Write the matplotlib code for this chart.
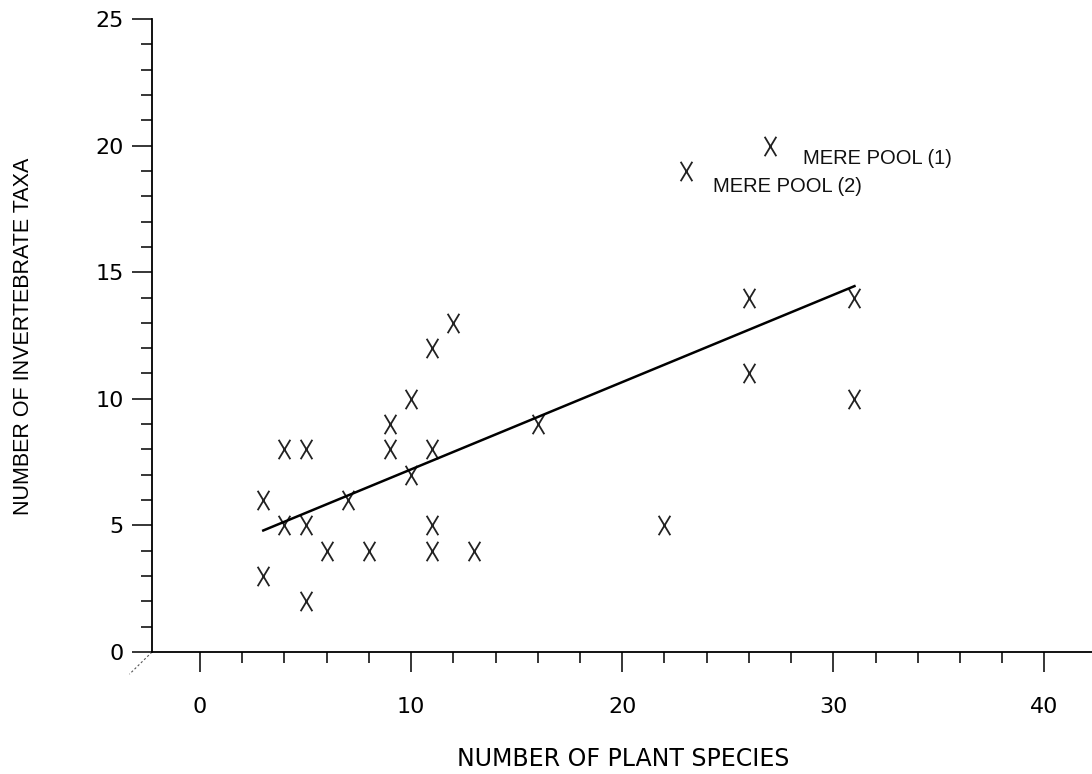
import matplotlib
matplotlib.use("Agg")
import matplotlib.pyplot as plt
from matplotlib.path import Path
from matplotlib.ticker import MultipleLocator, FixedLocator

# plant species vs invertebrate taxa per pond
plant_species = [3, 3, 4, 4, 5, 5, 5, 6, 7, 8, 9, 9, 10, 10, 11, 11, 11, 11,
                 12, 13, 16, 22, 23, 26, 26, 27, 31, 31]
invert_taxa = [6, 3, 8, 5, 8, 5, 2, 4, 6, 4, 9, 8, 10, 7, 12, 8, 5, 4,
               13, 4, 9, 5, 19, 14, 11, 20, 14, 10]

# fitted line
fit_x = [3, 31]
fit_y = [4.8, 14.45]

# labelled outliers
labels = ["MERE POOL (1)", "MERE POOL (2)"]
label_pts = [(27, 20), (23, 19)]
label_offsets = [(24, -9.5), (20, -11.5)]

x_major = [0, 10, 20, 30, 40]
x_minor = [2, 4, 6, 8, 12, 14, 16, 18, 22, 24, 26, 28, 32, 34, 36, 38]
y_major = [0, 5, 10, 15, 20, 25]

# tall narrow X marker
x_marker = Path([(-0.3, -0.5), (0.3, 0.5), (-0.3, 0.5), (0.3, -0.5)],
                [Path.MOVETO, Path.LINETO, Path.MOVETO, Path.LINETO])

fig = plt.figure(figsize=(10.92, 7.74), dpi=100)
ax = fig.add_axes([0.1392, 0.1576, 0.8608, 0.8179])

ax.plot(plant_species, invert_taxa, linestyle="none", marker=x_marker,
        markersize=14, markerfacecolor="none", markeredgecolor="#222222",
        markeredgewidth=1.3)
ax.plot(fit_x, fit_y, color="black", linewidth=1.8)

for text, pt, off in zip(labels, label_pts, label_offsets):
    ax.annotate(text, xy=pt, xytext=off, textcoords="offset points",
                ha="left", va="center", fontsize=14.5,
                family="Liberation Sans", color="#111111")

ax.set_xlim(-2.27, 42.25)
ax.set_ylim(0, 25)

ax.spines["top"].set_visible(False)
ax.spines["right"].set_visible(False)
ax.spines["left"].set_linewidth(1.3)
ax.spines["bottom"].set_linewidth(1.3)

ax.set_xticks(x_major)
ax.set_yticks(y_major)
ax.xaxis.set_minor_locator(FixedLocator(x_minor))
ax.yaxis.set_minor_locator(MultipleLocator(1))
ax.tick_params(which="major", length=14.4, width=1.1, direction="out")
ax.tick_params(which="minor", length=8, width=1.1, direction="out")
ax.tick_params(axis="x", which="major", pad=18, labelsize=16)
ax.tick_params(axis="y", which="major", pad=6, labelsize=16)

ax.set_xlabel("NUMBER OF PLANT SPECIES", fontsize=17)
ax.xaxis.set_label_coords(0.501, -0.15)
ax.set_ylabel("NUMBER OF INVERTEBRATE TAXA", fontsize=15.5,
              family="Liberation Sans")
ax.yaxis.set_label_coords(-0.126, 0.499)

# small dashed break mark at the origin corner
ax.plot([0, -0.024], [0, -0.035], transform=ax.transAxes, clip_on=False,
        color="#555555", linewidth=0.8, linestyle=(0, (2, 2)))

fig.savefig("out.png", dpi=100)
